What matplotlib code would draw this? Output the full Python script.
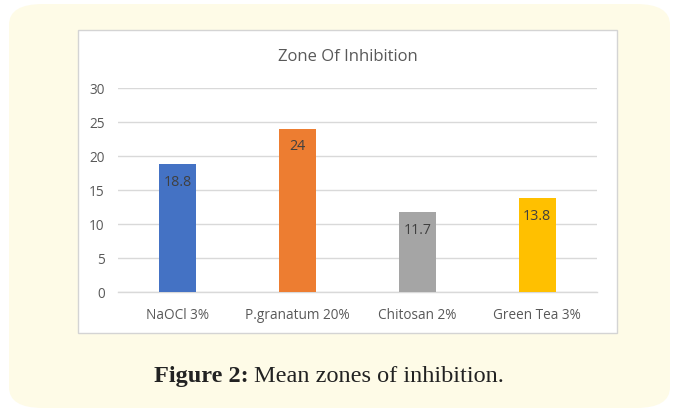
import matplotlib.pyplot as plt
from matplotlib.patches import FancyBboxPatch, Rectangle

# Chart data
categories = ["NaOCl 3%", "P.granatum 20%", "Chitosan 2%", "Green Tea 3%"]
values = [18.8, 24, 11.7, 13.8]
value_labels = ["18.8", "24", "11.7", "13.8"]
bar_colors = ["#4472C4", "#ED7D31", "#A5A5A5", "#FFC000"]
y_ticks = [0, 5, 10, 15, 20, 25, 30]

W, H = 679, 414
fig = plt.figure(figsize=(W / 100, H / 100), dpi=100)
fig.patch.set_facecolor("white")

# Rounded yellow panel behind everything
panel = FancyBboxPatch((9 / W, 5 / H), (670 - 9) / W, (409 - 5) / H,
                       boxstyle="round,pad=0,rounding_size=0.05",
                       transform=fig.transFigure, facecolor="#FEFBE7",
                       edgecolor="none", zorder=0)
fig.patches.append(panel)

# White chart box
box = Rectangle((78 / W, 1 - 334 / H), (617 - 78) / W, (334 - 31) / H,
                transform=fig.transFigure, facecolor="white",
                edgecolor="#D4D4D4", linewidth=1.0, zorder=1)
fig.patches.append(box)

ax = fig.add_axes([118 / W, 1 - 293 / H, (597 - 118) / W, (293 - 89) / H])
ax.set_zorder(2)
ax.patch.set_alpha(0)

x = range(len(categories))
bars = ax.bar(x, values, width=0.31, color=bar_colors, zorder=3)
ax.set_xlim(-0.5, len(categories) - 0.5)
ax.set_ylim(0, 30)
ax.set_yticks(y_ticks)
ax.set_xticks(list(x))
ax.set_xticklabels(categories)

font = "Open Sans"
for lab in ax.get_xticklabels() + ax.get_yticklabels():
    lab.set_fontfamily(font)
    lab.set_fontsize(9.8)
    lab.set_color("#595959")

ax.tick_params(axis="both", length=0)
ax.tick_params(axis="x", pad=10.5)
ax.tick_params(axis="y", pad=9.5)
ax.grid(axis="y", color="#D9D9D9", linewidth=1, zorder=0)
for side in ["top", "right", "left"]:
    ax.spines[side].set_visible(False)
ax.spines["bottom"].set_color("#D9D9D9")
ax.spines["bottom"].set_linewidth(1)

for b, lbl in zip(bars, value_labels):
    ax.annotate(lbl, (b.get_x() + b.get_width() / 2, b.get_height()),
                xytext=(0, -17), textcoords="offset pixels",
                ha="center", va="center", fontsize=10.3, color="#404040",
                fontfamily=font, zorder=4)

fig.text(348 / W, 1 - 57 / H, "Zone Of Inhibition", ha="center", va="center",
         fontsize=12, color="#595959", fontfamily=font)

# Caption: bold part + regular part
cap_y = 1 - 377 / H
cap_font = "Liberation Serif"
t1 = fig.text(154 / W, cap_y, "Figure 2:", ha="left", va="center",
              fontsize=17.5, fontweight="bold", color="#222222",
              fontfamily=cap_font)
fig.canvas.draw()
bb = t1.get_window_extent()
fig.text((bb.x1 + 5) / W, cap_y, "Mean zones of inhibition.", ha="left",
         va="center", fontsize=17.5, color="#222222",
         fontfamily=cap_font)

fig.savefig("out.png", dpi=100)
